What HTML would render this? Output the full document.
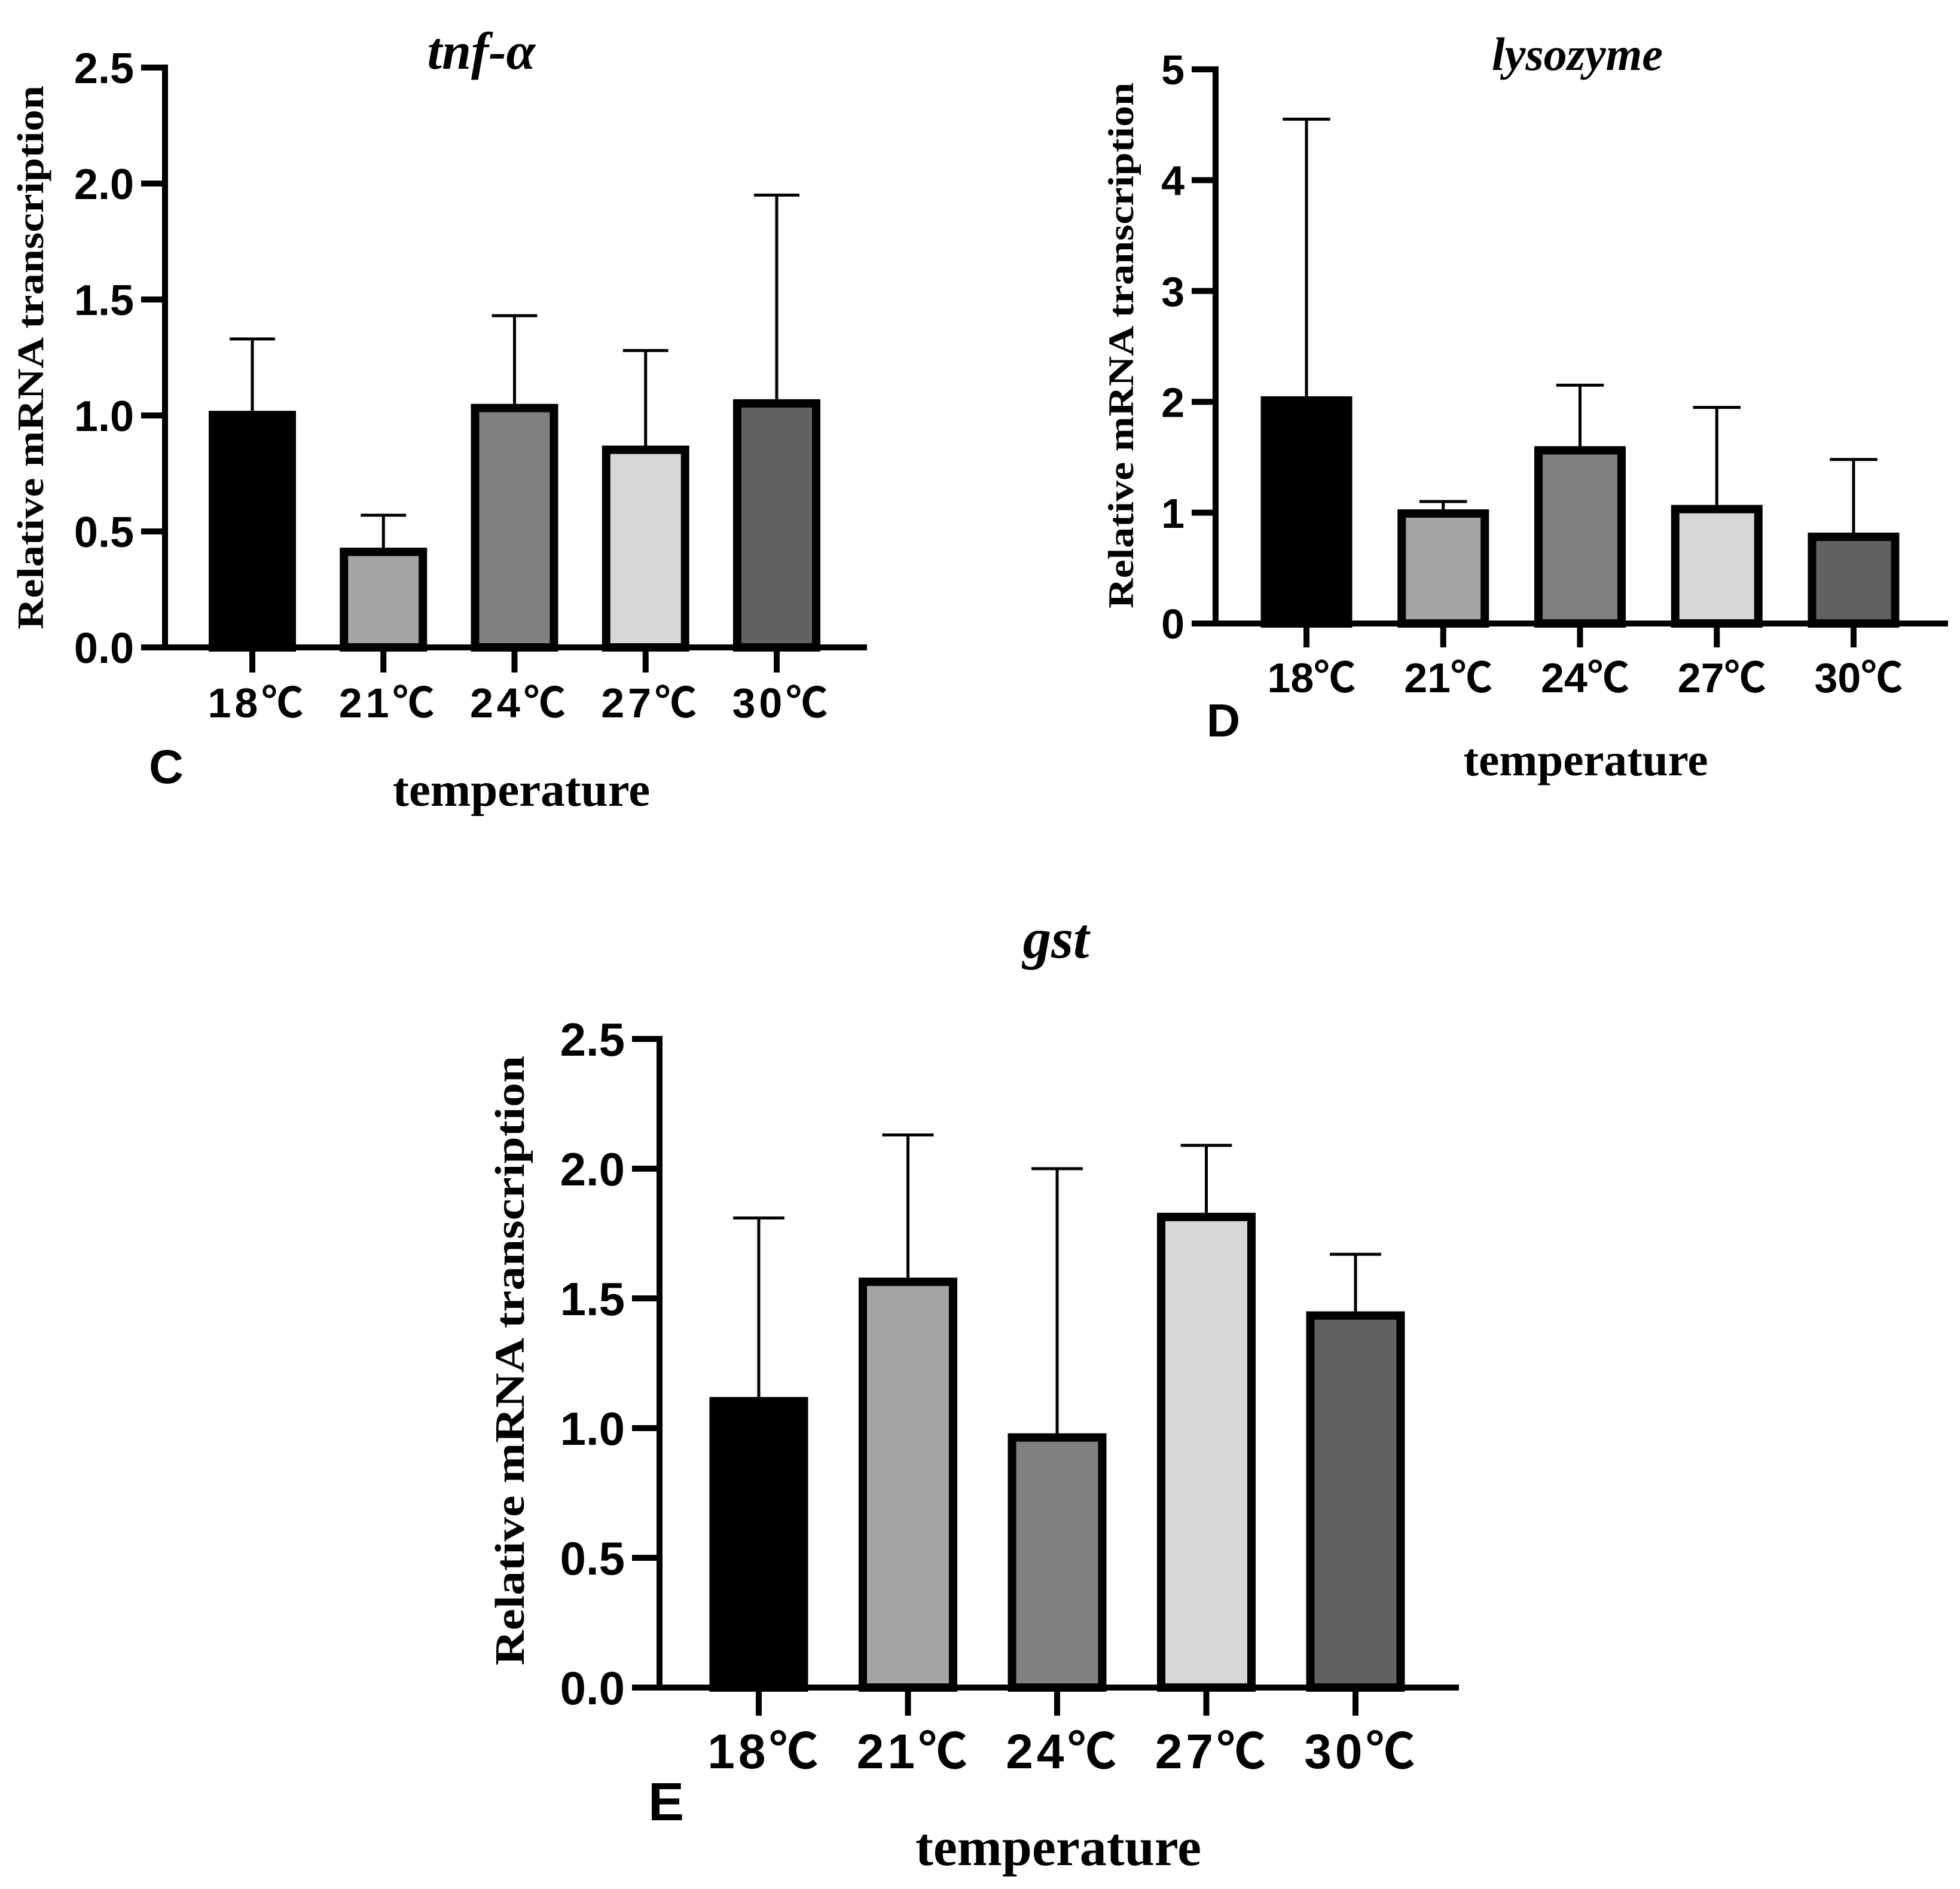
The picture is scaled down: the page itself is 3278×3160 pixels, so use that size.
<!DOCTYPE html>
<html><head><meta charset="utf-8"><style>
html,body{margin:0;padding:0;background:#fff}
svg{display:block}
.tick{font-family:"Liberation Sans",sans-serif;font-weight:bold}
.cat{font-family:"Liberation Sans","Noto Sans CJK SC",sans-serif;font-weight:bold}
.ser{font-family:"Liberation Serif",serif;font-weight:bold}
</style></head><body>
<svg id="fig" width="3278" height="3160" viewBox="0 0 3278 3160" xmlns="http://www.w3.org/2000/svg"></svg>
<script>
const categories = ["18℃","21℃","24℃","27℃","30℃"];
const fills = ["#000000","#a4a4a7","#808080","#d7d7d7","#626262"];
const tnfMeans = [1.02,0.43,1.05,0.87,1.07];
const tnfErrTop = [1.33,0.57,1.43,1.28,1.95];
const tnfTicks = ["0.0","0.5","1.0","1.5","2.0","2.5"];
const lysMeans = [2.05,1.03,1.60,1.07,0.82];
const lysErrTop = [4.55,1.10,2.15,1.95,1.48];
const lysTicks = ["0","1","2","3","4","5"];
const gstMeans = [1.12,1.58,0.98,1.83,1.45];
const gstErrTop = [1.81,2.13,2.00,2.09,1.67];
const gstTicks = ["0.0","0.5","1.0","1.5","2.0","2.5"];

const NS="http://www.w3.org/2000/svg";
const svg=document.getElementById('fig');
function mk(tag,attrs,parent){const e=document.createElementNS(NS,tag);for(const k in attrs)e.setAttribute(k,attrs[k]);(parent||svg).appendChild(e);return e;}

function panel(cfg){
  const g=mk('g',{});
  
  
  const yMax=cfg.yMax;
  const y=v=>cfg.y0-(v/yMax)*(cfg.y0-cfg.yTop);
  const x=i=>cfg.x0c+i*cfg.step;
  cfg.means.forEach((m,i)=>{
    const bw=cfg.bw, sw=14;
    const top=y(m);
    const eb=mk('g',{},g);
    
    
    mk('line',{x1:x(i),x2:x(i),y1:top,y2:y(cfg.err[i]),stroke:'#000','stroke-width':5},eb);
    mk('line',{x1:x(i)-bw*0.26,x2:x(i)+bw*0.26,y1:y(cfg.err[i]),y2:y(cfg.err[i]),stroke:'#000','stroke-width':5},eb);
    const r=mk('rect',{x:x(i)-bw/2+sw/2,y:top+sw/2,width:bw-sw,height:cfg.y0-top-sw/2,fill:fills[i],stroke:'#000','stroke-width':sw},g);
    
    
  });
  const ax=mk('g',{},g);
  
  
  mk('line',{x1:cfg.xAxis,x2:cfg.xAxis,y1:cfg.yTop-5,y2:cfg.y0+5,stroke:'#000','stroke-width':10},ax);
  cfg.ticks.forEach((t,k)=>{
    const v=k*yMax/(cfg.ticks.length-1);
    mk('line',{x1:cfg.tickStart,x2:cfg.xAxis,y1:y(v),y2:y(v),stroke:'#000','stroke-width':10},ax);
    const tx=mk('text',{x:cfg.tickStart-12,y:y(v)+cfg.tfs*0.36,'text-anchor':'end','font-size':cfg.tfs,class:'tick'},ax);
    tx.textContent=t;
    
    
  });
  const xa=mk('g',{},g);
  
  
  mk('line',{x1:cfg.tickStart,x2:cfg.xEnd,y1:cfg.y0,y2:cfg.y0,stroke:'#000','stroke-width':10},xa);
  categories.forEach((c,i)=>{
    mk('line',{x1:x(i),x2:x(i),y1:cfg.y0,y2:cfg.y0+cfg.tickLen,stroke:'#000','stroke-width':10},xa);
    const tx=mk('text',{x:x(i)+cfg.cfs*0.12,y:cfg.catY,'text-anchor':'middle','font-size':cfg.cfs,class:'cat','letter-spacing':cfg.ls||0},xa);
    tx.textContent=c;
    
    
  });
  const tt=mk('text',{x:cfg.title[0],y:cfg.title[1],'text-anchor':'middle','font-size':cfg.titleFs,class:'ser','font-style':'italic'},g);
  tt.textContent=cfg.titleText;
  
  
  const yl=mk('text',{x:0,y:0,'text-anchor':'middle','font-size':cfg.ylFs,class:'ser',transform:`translate(${cfg.yl[0]},${cfg.yl[1]}) rotate(-90)`,textLength:cfg.ylLen,lengthAdjust:'spacingAndGlyphs'},g);
  yl.textContent='Relative mRNA transcription';
  
  
  const xl=mk('text',{x:cfg.xl[0],y:cfg.xl[1],'text-anchor':'middle','font-size':cfg.xlFs,class:'ser'},g);
  xl.textContent='temperature';
  
  
  const pl=mk('text',{x:cfg.pl[0],y:cfg.pl[1],'text-anchor':'middle','font-size':cfg.plFs,class:'tick'},g);
  pl.textContent=cfg.letter;
  
  
}

panel({name:'panel-c-tnf',means:tnfMeans,err:tnfErrTop,ticks:tnfTicks,yMax:2.5,
  y0:1083,yTop:113,xAxis:276,tickStart:236,xEnd:1450,x0c:422,step:219.25,bw:146,tickLen:42,
  tfs:72,cfs:70,catY:1200,ls:6,title:[805,115],titleText:'tnf-α',titleFs:88,
  yl:[72,598],ylFs:62,ylLen:910,xl:[872,1348],xlFs:81,pl:[278,1310],plFs:80,letter:'C'});
panel({name:'panel-d-lysozyme',means:lysMeans,err:lysErrTop,ticks:lysTicks,yMax:5,
  y0:1043,yTop:116,xAxis:2033,tickStart:1993,xEnd:3258,x0c:2185,step:228.75,bw:153,tickLen:40,
  tfs:70,cfs:70,catY:1158,ls:0,title:[2638,117],titleText:'lysozyme',titleFs:78,
  yl:[1895,578],ylFs:60,ylLen:880,xl:[2652,1297],xlFs:77,pl:[2046,1232],plFs:78,letter:'D'});
panel({name:'panel-e-gst',means:gstMeans,err:gstErrTop,ticks:gstTicks,yMax:2.5,
  y0:2823,yTop:1738,xAxis:1103,tickStart:1057,xEnd:2440,x0c:1269,step:249.5,bw:165,tickLen:47,
  tfs:78,cfs:82,catY:2958,ls:6,title:[1766,1602],titleText:'gst',titleFs:95,
  yl:[876,2276],ylFs:70,ylLen:1020,xl:[1770,3120],xlFs:90,pl:[1114,3045],plFs:90,letter:'E'});
</script>
</body></html>
